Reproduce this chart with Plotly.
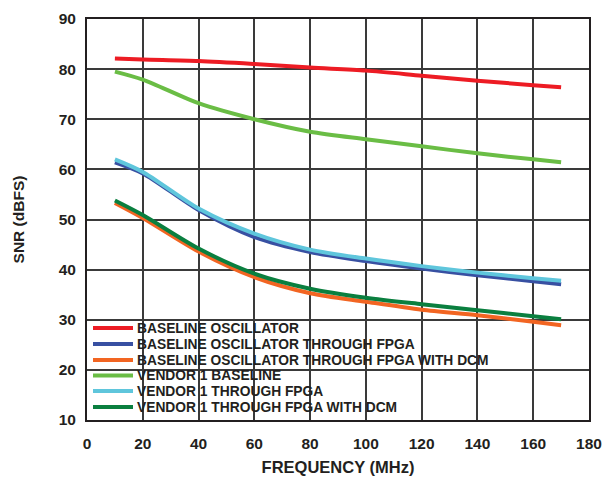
import plotly.graph_objects as go

freq = [10, 20, 40, 60, 80, 100, 120, 140, 160, 170]

baseline_osc = [82.1, 81.9, 81.6, 81.0, 80.3, 79.7, 78.7, 77.7, 76.8, 76.4]
baseline_fpga = [61.4, 59.2, 51.9, 46.5, 43.5, 41.7, 40.2, 38.9, 37.7, 37.1]
baseline_fpga_dcm = [53.3, 50.3, 43.6, 38.5, 35.3, 33.6, 32.0, 30.9, 29.6, 28.9]
vendor1_baseline = [79.5, 77.9, 73.2, 70.0, 67.5, 66.0, 64.6, 63.2, 62.0, 61.4]
vendor1_fpga = [62.0, 59.5, 52.2, 47.2, 44.0, 42.2, 40.7, 39.4, 38.3, 37.8]
vendor1_fpga_dcm = [53.8, 50.9, 44.2, 39.2, 36.2, 34.4, 33.1, 31.9, 30.7, 30.1]

series_names = [
    "BASELINE OSCILLATOR",
    "BASELINE OSCILLATOR THROUGH FPGA",
    "BASELINE OSCILLATOR THROUGH FPGA WITH DCM",
    "VENDOR 1 BASELINE",
    "VENDOR 1 THROUGH FPGA",
    "VENDOR 1 THROUGH FPGA WITH DCM",
]
series_values = [baseline_osc, baseline_fpga, baseline_fpga_dcm,
                 vendor1_baseline, vendor1_fpga, vendor1_fpga_dcm]
series_colors = ["#ED1C24", "#3850A2", "#F26522", "#6ABD45", "#5FC6DC", "#0A7F3F"]

x_ticks = [0, 20, 40, 60, 80, 100, 120, 140, 160, 180]
y_ticks = [10, 20, 30, 40, 50, 60, 70, 80, 90]

font_family = "Liberation Sans, Arial, Helvetica, sans-serif"
text_color = "#231F20"

fig = go.Figure()
for name, vals, color in zip(series_names, series_values, series_colors):
    fig.add_trace(go.Scatter(
        x=freq, y=vals, name=name, mode="lines",
        line=dict(color=color, width=4, shape="spline", smoothing=0.8),
        showlegend=False,
    ))

# Custom legend (white box over the grid, below the curves)
plot_left, plot_right, plot_top, plot_bottom = 87, 589, 19, 420
pw = plot_right - plot_left
ph = plot_bottom - plot_top
shapes = [dict(type="rect", xref="paper", yref="paper",
               x0=0, x1=(520 - plot_left) / pw, y0=0, y1=(plot_bottom - 316) / ph,
               fillcolor="white", line=dict(width=0), layer="between")]
annotations = []
row_y = [328, 344, 360, 375.5, 391, 407]
for name, color, ry in zip(series_names, series_colors, row_y):
    yp = (plot_bottom - ry) / ph
    shapes.append(dict(type="line", xref="paper", yref="paper",
                       x0=(93 - plot_left) / pw, x1=(133 - plot_left) / pw,
                       y0=yp, y1=yp, line=dict(color=color, width=4),
                       layer="above"))
    annotations.append(dict(xref="paper", yref="paper", x=(135 - plot_left) / pw, y=yp,
                            xanchor="left", yanchor="middle", showarrow=False,
                            text=name,
                            font=dict(family=font_family, size=13.8, color=text_color,
                                      weight="bold")))

fig.update_layout(
    width=606, height=477,
    margin=dict(l=plot_left, r=606 - plot_right, t=plot_top, b=477 - plot_bottom, pad=0),
    paper_bgcolor="white", plot_bgcolor="white",
    font=dict(family=font_family, color=text_color, size=15),
    showlegend=False,
    shapes=shapes,
    annotations=annotations,
    xaxis=dict(
        range=[0, 180], tickvals=x_ticks, automargin=False,
        showgrid=True, gridcolor="#3A3A3A", gridwidth=1.5,
        showline=True, linecolor=text_color, linewidth=2, mirror=True,
        ticks="", ticklabelstandoff=8,
        tickfont=dict(size=15.5, weight="bold", color=text_color),
        title=dict(text="FREQUENCY (MHz)", standoff=11,
                   font=dict(size=16.5, weight="bold", color=text_color)),
        zeroline=False,
    ),
    yaxis=dict(
        range=[10, 90], tickvals=y_ticks, automargin=False,
        showgrid=True, gridcolor="#3A3A3A", gridwidth=1.5,
        showline=True, linecolor=text_color, linewidth=2, mirror=True,
        ticks="", ticklabelstandoff=6,
        tickfont=dict(size=15.5, weight="bold", color=text_color),
        title=dict(text="SNR (dBFS)", standoff=30,
                   font=dict(size=15.5, weight="bold", color=text_color)),
        zeroline=False,
    ),
)

fig.write_html("out.html")
